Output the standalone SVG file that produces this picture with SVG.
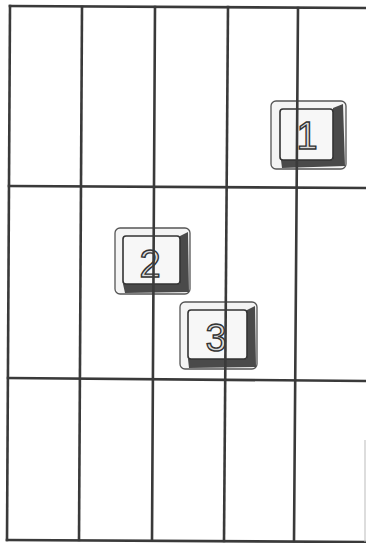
<svg xmlns="http://www.w3.org/2000/svg" width="366" height="543" viewBox="0 0 366 543">
<style>
.g{stroke:#3a3a3a;stroke-width:2.6;fill:none;stroke-linecap:square}
.outer{fill:#f4f4f4;stroke:#555;stroke-width:1.3}
.shadow{fill:#4a4a4a}
.face{fill:#f7f7f7;stroke:#333;stroke-width:1.6}
.lbl{font-family:"Liberation Sans",Arial,sans-serif;font-size:38px;fill:#dcdcdc;stroke:#333;stroke-width:1.4;text-anchor:middle}
</style>
<rect width="366" height="543" fill="#ffffff"/>
<g id="key1">
<rect class="outer" x="271" y="101" width="75" height="68" rx="5"/>
<path class="shadow" d="M333,108 L343,104 L345,166 L282,168 L281,160 L333,160 Z"/>
<rect class="face" x="280" y="109" width="53" height="51" rx="3"/>
<text class="lbl" x="307" y="149">1</text>
</g>
<g id="key2">
<rect class="outer" x="115" y="228" width="75" height="66" rx="5"/>
<path class="shadow" d="M180,236 L188,232 L189,292 L125,293 L123,284 L180,284 Z"/>
<rect class="face" x="123" y="236" width="57" height="48" rx="3"/>
<text class="lbl" x="150" y="277">2</text>
</g>
<g id="key3">
<rect class="outer" x="180" y="302" width="77" height="67" rx="5"/>
<path class="shadow" d="M247,310 L255,306 L256,367 L189,368 L188,359 L247,359 Z"/>
<rect class="face" x="188" y="310" width="59" height="49" rx="3"/>
<text class="lbl" x="216" y="351">3</text>
</g>
<g id="grid" class="g">
<line x1="10" y1="6" x2="366" y2="8"/>
<line x1="10" y1="6" x2="7" y2="540"/>
<line x1="82" y1="7" x2="79" y2="540"/>
<line x1="155" y1="7" x2="152" y2="540"/>
<line x1="228" y1="7" x2="224" y2="541"/>
<line x1="298" y1="8" x2="294" y2="541"/>
<line x1="9" y1="186" x2="366" y2="188"/>
<line x1="8" y1="378" x2="366" y2="381"/>
<line x1="7" y1="540" x2="366" y2="542"/>
</g>
<line x1="365" y1="440" x2="365" y2="542" stroke="#bbb" stroke-width="1"/>
</svg>
